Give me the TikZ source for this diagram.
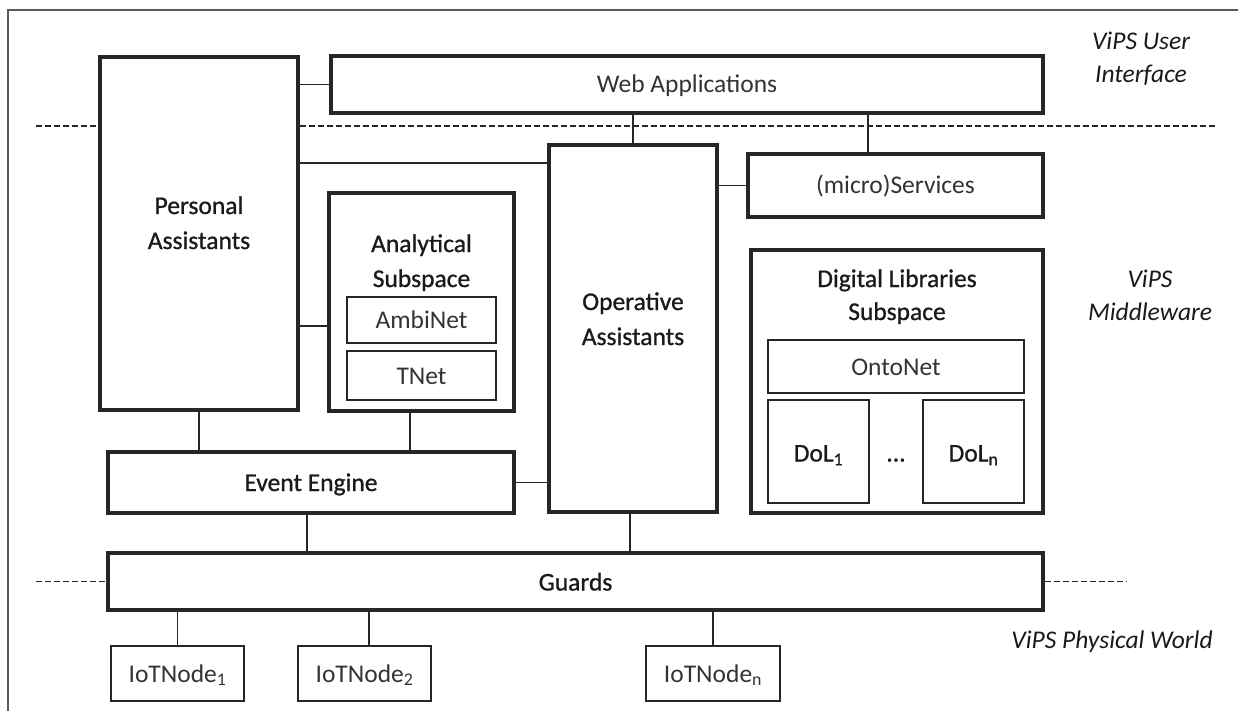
\documentclass[tikz,border=0pt]{standalone}
\usepackage{fontspec}
\setmainfont{Carlito}
\newfontfamily\darkfont[FakeBold=0.9]{Carlito}
\usetikzlibrary{calc}
\definecolor{ink}{HTML}{1A1A1A}
\definecolor{lightink}{HTML}{333333}
\definecolor{boxc}{HTML}{262626}
\definecolor{framec}{HTML}{5A5A5A}
\begin{document}
\begin{tikzpicture}[x=1pt,y=-1pt,
  bigbox/.style={draw=boxc, line width=3.2pt, rectangle, inner sep=0pt},
  smallbox/.style={draw=boxc, line width=2.3pt, rectangle, inner sep=0pt},
  txt/.style={text=ink, inner sep=0pt, font=\darkfont\fontsize{25.5}{30}\selectfont, anchor=base},
  ltxt/.style={text=lightink, inner sep=0pt, font=\fontsize{25.5}{30}\selectfont, anchor=base},
  itxt/.style={text=ink, inner sep=0pt, font=\fontsize{25.5}{30}\selectfont\itshape, anchor=base},
  conn/.style={draw=boxc, line width=1.7pt},
  sep/.style={draw=boxc, line width=1.8pt, dash pattern=on 6pt off 3pt}
]
\useasboundingbox (0,0) rectangle (1238,711);
\draw[framec, line width=1.4pt] (8,711) -- (8,10) -- (1240,10);

% boxes
\node[bigbox, minimum width=198, minimum height=353] (pa) at (199,233.5) {};
\node[bigbox, minimum width=712, minimum height=57] (web) at (687,84.5) {};
\node[bigbox, minimum width=168, minimum height=367] (oa) at (633,328.5) {};
\node[bigbox, minimum width=295, minimum height=63] (srv) at (895.5,185.5) {};
\node[bigbox, minimum width=185, minimum height=218] (as) at (421.5,302) {};
\node[smallbox, minimum width=149, minimum height=46] (ambi) at (421.5,320) {};
\node[smallbox, minimum width=149, minimum height=49] (tnet) at (421.5,375.5) {};
\node[bigbox, minimum width=406, minimum height=61] (ee) at (311,482.5) {};
\node[bigbox, minimum width=935, minimum height=57] (guards) at (575.5,581.5) {};
\node[bigbox, minimum width=292, minimum height=263] (dl) at (897,381.5) {};
\node[smallbox, minimum width=256, minimum height=53] (onto) at (896,366.5) {};
\node[smallbox, minimum width=101, minimum height=103] (dol1) at (818.5,451.5) {};
\node[smallbox, minimum width=101, minimum height=103] (doln) at (973.5,451.5) {};
\node[smallbox, minimum width=133, minimum height=55] (iot1) at (177.5,673.5) {};
\node[smallbox, minimum width=133, minimum height=55] (iot2) at (364.5,673.5) {};
\node[smallbox, minimum width=134, minimum height=55] (iotn) at (713,673.5) {};

% texts
\node[txt] (pa1) at (199,214) {Personal};
\node[txt] (pa2) at (199,249) {Assistants};
\node[txt] (as1) at (421.5,252) {Analytical};
\node[txt] (as2) at (421.5,287) {Subspace};
\node[txt] (oa1) at (633,310) {Operative};
\node[txt] (oa2) at (633,345) {Assistants};
\node[txt] (dl1) at (897,287) {Digital Libraries};
\node[txt] (dl2) at (897,320) {Subspace};
\node[ltxt] (webt) at (687,92.5) {Web Applications};
\node[ltxt] (srvt) at (895.5,193.5) {(micro)Services};
\node[ltxt] (ambit) at (421.5,328.5) {AmbiNet};
\node[ltxt] (tnett) at (421.5,384) {TNet};
\node[ltxt] (ontot) at (896,375) {OntoNet};
\node[txt] (eet) at (311,491) {Event Engine};
\node[txt] (gt) at (575.5,590.5) {Guards};
\node[txt] (dol1t) at (818.5,461.5) {DoL\textsubscript{1}};
\node[txt] (dolnt) at (973.5,461.5) {DoL\textsubscript{n}};
\node[txt] (dots) at (896,461.5) {...};
\node[ltxt] (iot1t) at (177.5,682) {IoTNode\textsubscript{1}};
\node[ltxt] (iot2t) at (364.5,682) {IoTNode\textsubscript{2}};
\node[ltxt] (iotnt) at (713,682) {IoTNode\textsubscript{n}};
\node[itxt] (ui1) at (1141,50) {ViPS User};
\node[itxt] (ui2) at (1141,83) {Interface};
\node[itxt] (mw1) at (1150,287) {ViPS};
\node[itxt] (mw2) at (1150,320) {Middleware};
\node[itxt] (pw) at (1112,648) {ViPS Physical World};

% layer separators
\draw[sep] (36,126) -- (pa.west |- 0,126);
\draw[sep] (pa.east |- 0,126) -- (1215,126);
\draw[sep] (36,581.5) -- (guards.west);
\draw[sep] (guards.east) -- (1127,581.5);

% connectors
\draw[conn] (web.west) -- (web.west -| pa.east);
\draw[conn] (pa.east |- 0,163) -- (oa.west |- 0,163);
\draw[conn] (oa.north) -- (oa.north |- web.south);
\draw[conn] (srv.north -| 868,0) -- (web.south -| 868,0);
\draw[conn] (srv.west) -- (srv.west -| oa.east);
\draw[conn] (pa.east |- 0,326) -- (as.west |- 0,326);
\draw[conn] (pa.south) -- (pa.south |- ee.north);
\draw[conn] (as.south -| 410,0) -- (ee.north -| 410,0);
\draw[conn] (ee.east) -- (ee.east -| oa.west);
\draw[conn] (ee.south -| 307,0) -- (guards.north -| 307,0);
\draw[conn] (oa.south -| 630,0) -- (guards.north -| 630,0);
\draw[conn] (iot1.north) -- (iot1.north |- guards.south);
\draw[conn] (iot2.north -| 369,0) -- (guards.south -| 369,0);
\draw[conn] (iotn.north) -- (iotn.north |- guards.south);
\end{tikzpicture}
\end{document}
